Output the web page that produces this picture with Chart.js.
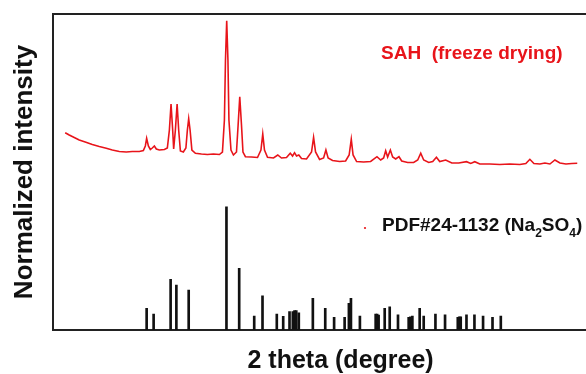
<!DOCTYPE html>
<html>
<head>
<meta charset="utf-8">
<script src="https://cdn.jsdelivr.net/npm/chart.js@4"></script>
<style>
  html, body { margin: 0; padding: 0; overflow: hidden; background: #fff; }
  #wrap { width: 630px; height: 374px; }
</style>
</head>
<body>
<div id="wrap"><canvas id="xrdChart" width="630" height="374"></canvas></div>
<script>
// SAH (freeze drying) pattern, 2 theta (deg) and normalized intensity
const sahTheta = [11.46, 11.95, 12.56, 13.17, 13.90, 14.76, 15.61, 16.46, 17.20, 18.05, 18.90, 19.63, 20.49, 20.98,
	21.22, 21.38, 21.59, 21.83, 22.07, 22.32, 22.56, 22.93, 23.54, 23.90, 24.15, 24.35, 24.55, 24.67, 24.88, 25.09,
	25.28, 25.49, 25.85, 26.16, 26.34, 26.50, 26.67, 26.89, 27.32, 28.05, 28.78, 29.51, 30.24, 30.61, 30.85, 30.98,
	31.13, 31.28, 31.40, 31.65, 31.95, 32.32, 32.52, 32.72, 32.93, 33.11, 33.41, 34.15, 34.88, 35.30, 35.52, 35.73,
	36.10, 36.83, 37.35, 37.80, 38.41, 38.87, 39.15, 39.39, 39.63, 39.91, 40.24, 40.85, 41.46, 41.71, 41.95, 42.44,
	42.93, 43.21, 43.48, 44.02, 44.88, 45.61, 46.04, 46.30, 46.52, 46.95, 47.80, 48.66, 49.43, 49.88, 50.24, 50.49,
	50.73, 51.06, 51.34, 51.71, 52.11, 52.44, 53.17, 53.90, 54.39, 54.76, 55.12, 55.73, 56.22, 56.67, 57.07, 57.80,
	58.54, 59.39, 60.33, 60.85, 61.34, 61.95, 63.17, 64.39, 65.61, 66.83, 67.56, 68.05, 68.54, 69.27, 69.88, 70.49,
	71.10, 71.71, 72.44, 73.17, 73.82]
const sahIntensity = [62.44, 61.71, 60.92, 60.13, 59.49, 58.70, 58.07, 57.50, 56.96, 56.49, 56.33, 56.49, 56.49, 56.80,
	58.23, 60.66, 58.23, 57.12, 57.59, 58.23, 57.28, 56.96, 57.12, 57.59, 63.29, 71.52, 63.29, 57.28, 63.29, 71.52,
	63.29, 56.65, 56.33, 57.59, 63.29, 66.87, 63.29, 56.96, 55.92, 55.70, 55.54, 55.70, 55.54, 56.33, 66.46, 85.44,
	97.88, 85.44, 66.46, 56.96, 55.38, 56.33, 64.87, 73.83, 64.87, 56.33, 54.84, 54.75, 54.59, 56.96, 62.03, 56.96,
	54.65, 54.43, 55.38, 54.43, 54.59, 55.92, 55.06, 56.11, 55.06, 55.38, 54.27, 54.11, 56.33, 60.98, 56.33, 53.96,
	54.43, 56.96, 54.43, 53.64, 53.32, 53.48, 55.38, 60.35, 55.38, 53.32, 53.16, 53.32, 54.84, 53.80, 54.43, 56.74,
	54.75, 56.96, 54.75, 54.11, 54.84, 53.48, 53.01, 53.01, 53.80, 55.92, 53.80, 53.01, 53.32, 54.65, 53.32, 53.80,
	52.85, 52.85, 53.26, 52.69, 53.26, 52.53, 52.53, 52.37, 52.53, 52.37, 52.69, 54.02, 52.69, 52.53, 52.85, 52.53,
	53.80, 52.85, 52.53, 52.69, 52.75]

// PDF#24-1132 (Na2SO4) reference lines
const pdfTheta = [21.38, 22.23, 24.30, 25.00, 26.50, 31.10, 32.65, 34.48, 35.49, 37.23, 38.01, 38.78, 39.18, 39.39,
	39.60, 39.91, 41.62, 43.13, 44.21, 45.49, 46.01, 46.26, 47.35, 49.27, 49.45, 49.63, 50.37, 50.98, 51.99, 53.29,
	53.50, 53.74, 54.63, 55.12, 56.55, 57.72, 59.27, 59.45, 59.63, 60.33, 61.30, 62.35, 63.50, 64.51]
const pdfIntensity = [6.87, 5.06, 16.04, 14.24, 12.66, 39.0, 19.53, 4.43, 10.85, 5.06, 4.34, 5.79, 5.79, 6.11,
	6.11, 5.47, 10.03, 6.87, 4.02, 4.02, 8.45, 10.03, 4.43, 5.06, 5.06, 4.75, 6.87, 7.37, 4.84, 4.02,
	4.2, 4.43, 6.87, 4.43, 5.06, 4.84, 4.02, 4.2, 4.2, 4.84, 4.84, 4.43, 4.02, 4.43]

const FONT = '"Liberation Sans", Arial, sans-serif'

//text labels inside the plot
const notesPlugin = {
	id: 'notes',
	afterDraw(chart) {
		const ctx = chart.ctx
		ctx.save()
		ctx.textBaseline = 'alphabetic'
		ctx.textAlign = 'left'
		ctx.font = `bold 19px ${FONT}`
		ctx.fillStyle = '#e8141a'
		ctx.fillText('SAH  (freeze drying)', 381, 59)

		ctx.beginPath()
		ctx.arc(365, 228, 1.1, 0, Math.PI * 2)
		ctx.fill()

		ctx.fillStyle = '#111'
		let x = 382
		const parts = [['PDF#24-1132 (Na', false], ['2', true], ['SO', false], ['4', true], [')', false]]
		parts.forEach(([txt, sub]) => {
			ctx.font = sub ? `bold 12px ${FONT}` : `bold 19px ${FONT}`
			ctx.fillText(txt, x, sub ? 237 : 231)
			x += ctx.measureText(txt).width
		})
		ctx.restore()
	}
}

const chartData = {
	datasets: [{
		type: 'line',
		data: sahTheta.map((t, i) => ({ x: t, y: sahIntensity[i] })),
		borderColor: '#e8141a',
		borderWidth: 1.6,
		pointRadius: 0,
		tension: 0,
		fill: false
	}, {
		type: 'bar',
		data: pdfTheta.map((t, i) => ({ x: t, y: pdfIntensity[i] })),
		backgroundColor: '#111',
		barThickness: 2
	}]
}

const noGrid = { display: false, drawTicks: false }

new Chart(document.getElementById('xrdChart'), {
	type: 'line',
	data: chartData,
	options: {
		responsive: false,
		animation: false,
		devicePixelRatio: 1,
		layout: { padding: { left: 1, top: 14, right: 2, bottom: 0 } },
		plugins: {
			legend: { display: false },
			tooltip: { enabled: false }
		},
		scales: {
			x: {
				type: 'linear',
				min: 10,
				max: 80,
				offset: false,
				grid: noGrid,
				ticks: { display: false },
				border: { display: true, color: '#222', width: 2 },
				title: {
					display: true,
					text: '2 theta (degree)',
					color: '#111',
					font: { family: FONT, size: 25, weight: 'bold' },
					padding: { top: 16, bottom: -2 }
				}
			},
			xTop: {
				type: 'linear',
				position: 'top',
				min: 10,
				max: 80,
				grid: noGrid,
				ticks: { display: false },
				border: { display: true, color: '#222', width: 2 }
			},
			y: {
				min: 0,
				max: 100,
				grid: noGrid,
				ticks: { display: false },
				border: { display: true, color: '#222', width: 2 },
				title: {
					display: true,
					text: 'Normalized intensity',
					color: '#111',
					font: { family: FONT, size: 26, weight: 'bold' },
					padding: { top: 8, bottom: 13 }
				}
			}
		}
	},
	plugins: [notesPlugin]
})
</script>
</body>
</html>
